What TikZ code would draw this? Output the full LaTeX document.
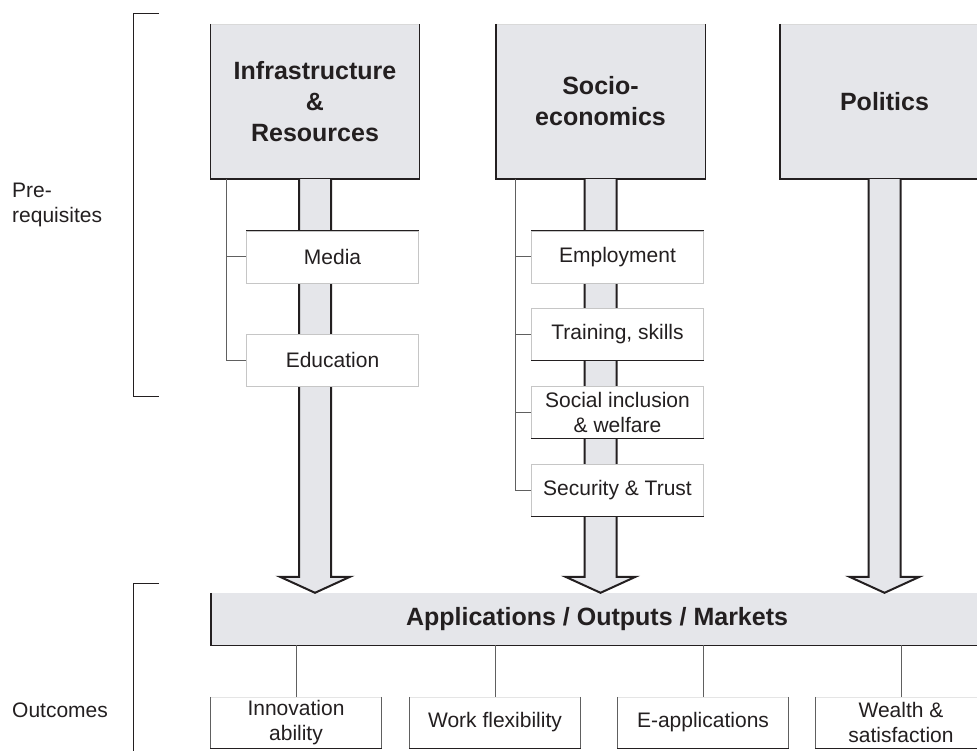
\documentclass[tikz,border=0pt]{standalone}
\usepackage{fontspec}
\setmainfont{Liberation Sans}
\usepackage{xcolor}
\usetikzlibrary{calc}

\definecolor{boxgray}{RGB}{229,230,234}
\definecolor{inkdark}{RGB}{35,31,32}

\newcommand\headfont{\fontsize{25}{31}\selectfont\bfseries}
\newcommand\labelfont{\fontsize{21}{25}\selectfont}

	%fat grey arrow from a box down to the bar
\newcommand\fatarrow[2]{%
  \draw[bigarrow] let \p1=(#1.south), \p2=(#2.north) in
    (\x1-16,\y1) -- (\x1-16,\y2+16) -- (\x1-35,\y2+16) -- (\x1,\y2)
    -- (\x1+35,\y2+16) -- (\x1+16,\y2+16) -- (\x1+16,\y1);}

\begin{document}
\begin{tikzpicture}[x=1pt,y=-1pt,
  topbox/.style={fill=boxgray, minimum width=209pt, minimum height=155pt, inner sep=0pt, align=center, font=\headfont, text=inkdark},
  subbox/.style={draw=gray!45, fill=white, minimum width=172pt, minimum height=52pt, inner sep=0pt, align=center, font=\labelfont, text=inkdark},
  outbox/.style={draw=gray!20, fill=white, minimum width=171pt, minimum height=51pt, inner sep=0pt, align=center, font=\labelfont, text=inkdark},
  darkline/.style={draw=inkdark, line width=1.4pt},
  sideline/.style={draw=gray!75!black, line width=1pt},
  treeline/.style={draw=gray!75!black, line width=1pt},
  bigarrow/.style={draw=inkdark, fill=boxgray, line width=2pt, line join=miter},
  bracket/.style={draw=inkdark, line width=1pt}]

\clip (0,0) rectangle (977,751);

	%side labels and brackets
\node[anchor=west, align=left, font=\labelfont, text=inkdark, inner sep=0pt] (prereq) at (12,205) {Pre-\\requisites};
\node[anchor=west, font=\labelfont, text=inkdark, inner sep=0pt] (outcomes) at (12,710) {Outcomes};

\coordinate (pretop) at (159,14);
\coordinate (prebot) at (159,396);
\coordinate (outtop) at (159,583);
\draw[bracket] (pretop) -- ++(-26,0) |- (prebot);
\draw[bracket] (outtop) -- ++(-26,0) -- ++(0,200);

	%top boxes
\node[topbox] (infra) at (315,101.5) {Infrastructure\\\&\\Resources};
\node[topbox] (socio) at (600.5,101.5) {Socio-\\economics};
\node[topbox] (politics) at (884.5,101.5) {Politics};

\foreach \n in {infra,socio,politics}{
  \draw[gray!30] (\n.north west) -- (\n.north east);
  \draw[darkline] (\n.north west) -- (\n.south west) -- (\n.south east) -- (\n.north east);
}

	%bar at the bottom
\node[fill=boxgray, minimum width=772pt, minimum height=52pt, inner sep=0pt, font=\headfont, text=inkdark] (apps) at (597,619) {Applications / Outputs / Markets};
\draw[darkline] (apps.north west) -- (apps.south west) -- (apps.south east);

\fatarrow{infra}{apps}
\fatarrow{socio}{apps}
\fatarrow{politics}{apps}

	%boxes on the arrows
\node[subbox] (media) at (332.5,257) {Media};
\node[subbox] (edu) at (332.5,360) {Education};
\node[subbox] (empl) at (617.5,257) {Employment};
\node[subbox] (train) at (617.5,334.5) {Training, skills};
\node[subbox] (social) at (617.5,412.5) {Social inclusion\\\& welfare};
\node[subbox] (secur) at (617.5,490) {Security \& Trust};

\foreach \n/\a/\b in {media/north west/north east, empl/north west/north east,
    train/south west/south east, social/south west/south east, secur/south west/south east}
  \draw[darkline] (\n.\a) -- (\n.\b);

\coordinate (infratrunk) at (226,179);
\coordinate (sociotrunk) at (515.5,179);
\draw[treeline] (infratrunk) |- (media.west);
\draw[treeline] (infratrunk) |- (edu.west);
\foreach \n in {empl,train,social,secur}
  \draw[treeline] (sociotrunk) |- (\n.west);

	%outcome boxes
\node[outbox] (innov) at (296,722.5) {Innovation\\ability};
\node[outbox] (workflex) at (495,722.5) {Work flexibility};
\node[outbox] (eapp) at (703,722.5) {E-applications};
\node[outbox] (wealth) at (901,722.5) {Wealth \&\\satisfaction};

\foreach \n in {innov,workflex,eapp,wealth}{
  \draw[sideline] (\n.north west) -- (\n.south west);
  \draw[sideline] (\n.north east) -- (\n.south east);
  \draw[darkline] (\n.south west) -- (\n.south east);
  \draw[treeline] (\n.north) -- (\n.north |- apps.south);
}

\end{tikzpicture}
\end{document}
